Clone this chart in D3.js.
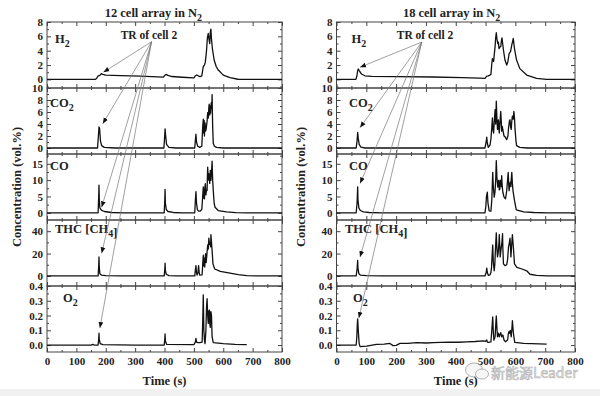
<!DOCTYPE html>
<html>
<head>
<meta charset="utf-8">
<script src="https://cdn.jsdelivr.net/npm/d3@7"></script>
<style>
  body { margin: 0; background: #fff; }
  svg { display: block; }
  .tick text { font-family: "Liberation Serif", serif; font-weight: bold; font-size: 11px; fill: #222; }
  .lbl { font-family: "Liberation Serif", serif; font-weight: bold; fill: #222; }
</style>
</head>
<body>
<svg id="chart" width="600" height="396"></svg>
<script>
// time axis
var timeTicks = [0, 100, 200, 300, 400, 500, 600, 700, 800];
var timeMinor = [50, 150, 250, 350, 450, 550, 650, 750];

// gases, top to bottom
var gasNames = ["H2", "CO2", "CO", "THC", "O2"];
var gasDomains = [[-1.2, 8], [-1, 10], [-2.2, 18], [-9, 50], [-0.047, 0.4]];
var gasTicks = [[0, 2, 4, 6, 8], [0, 2, 4, 6, 8, 10], [0, 5, 10, 15], [0, 20, 40], [0, 0.1, 0.2, 0.3, 0.4]];
var gasMinor = [[-1, 1, 3, 5, 7], [1, 3, 5, 7, 9], [2.5, 7.5, 12.5, 17.5], [10, 30], [0.05, 0.15, 0.25, 0.35]];

// 12 cell array, [time s, vol.%]
var leftH2 = [[0,0],[165,0],[170,0.2],[173,0.45],[180,0.55],[185,0.8],[190,0.7],[200,0.6],[250,0.52],[317,0.46],[396,0.32],
  [400,0.5],[405,0.7],[412,0.55],[425,0.4],[460,0.3],[500,0.2],[505,0.5],[510,0.62],[515,0.5],[521,0.37],[527,0.5],
  [532,1.8],[536,2.0],[539,2.4],[543,4.0],[546,5.8],[549,6.4],[551,5.7],[554,5.0],[556,6.6],[558,7.0],[560,5.6],
  [563,4.3],[569,2.7],[576,1.8],[583,1.3],[600,0.6],[623,0.25],[650,0.02],[680,0],[800,0]];
var leftCO2 = [[0,0],[172,0],[175,2.0],[177,3.5],[179,3.3],[182,1.2],[186,0.4],[195,0.1],[230,0],[398,0],[400,1.5],
  [402,3.2],[404,2.0],[407,0.6],[415,0.1],[440,0],[503,0],[505,1.2],[507,2.3],[509,1.0],[513,0.3],[520,0.1],[527,0.3],
  [530,3.5],[532,4.8],[533,2.5],[535,4.6],[536,2.0],[538,4.2],[540,2.8],[542,3.2],[545,4.5],[547,5.9],[549,5.0],
  [551,6.8],[552,7.3],[554,5.5],[555,7.0],[557,5.8],[559,7.5],[561,6.6],[562,8.9],[563,6.0],[564,3.6],[566,0.8],
  [570,0.3],[577,0.1],[600,0],[800,0]];
var leftCO = [[0,0],[174,0],[176,5],[177,8.5],[178,4],[180,1.5],[185,0.8],[195,0.4],[220,0.1],[260,0],[399,0],[401,4],
  [402,7.2],[403,3],[406,1],[412,0.4],[430,0.1],[460,0],[503,0],[505,3.5],[507,6.5],[509,3],[512,1],[516,0.5],[521,0.5],
  [527,1.0],[530,5],[532,7.9],[534,4.5],[536,4.3],[537,7.5],[539,8.9],[541,5.5],[543,7.0],[545,6.8],[546,11],[547,14],
  [549,10],[551,12],[552,11.4],[554,9],[556,13],[558,9.9],[560,12.5],[561,14],[562,15.8],[564,10],[566,6.8],[569,3],
  [572,1.7],[583,0.7],[611,0.3],[643,0.05],[680,0],[800,0]];
var leftTHC = [[0,0],[174,0],[176,9],[177,17],[178,8],[180,2],[185,0.8],[200,0.2],[250,0],[399,0],[401,6],[402,11.4],
  [403,5],[406,1.5],[415,0.3],[440,0],[503,0],[505,5],[507,9.2],[509,3],[511,0.8],[514,3],[516,9.2],[518,3],[520,0.8],
  [528,1],[530,10],[532,18.5],[534,9],[536,16],[537,8],[539,17],[540,20],[542,12],[544,18],[547,27.7],[549,24],
  [551,33.8],[553,28],[556,30],[557,26],[558,37],[560,30],[562,23],[565,10.8],[571,6.2],[590,4],[623,2.5],[651,1.2],
  [680,0.3],[720,0],[800,0]];
var leftO2 = [[0,0],[150,0],[156,0.005],[160,0],[174,0],[176,0.04],[177,0.08],[178,0.04],[181,0.01],[190,0.003],
  [300,0],[399,0],[401,0.04],[402,0.075],[403,0.03],[407,0.005],[500,0.003],[505,0.02],[507,0.045],[509,0.02],
  [514,0.016],[521,0.016],[528,0.02],[530,0.15],[532,0.34],[534,0.1],[536,0.035],[538,0.01],[541,0.1],[543,0.25],
  [545,0.315],[547,0.2],[549,0.147],[551,0.23],[553,0.237],[554,0.15],[556,0.12],[557,0.22],[558,0.226],[560,0.2],
  [562,0.057],[566,0.016],[600,0.01],[640,0.005],[680,0.003]];

// 18 cell array, [time s, vol.%]
var rightH2 = [[0,0],[65,0],[68,0.4],[71,1.2],[73,1.45],[78,1.1],[84,0.75],[95,0.5],[118,0.42],[200,0.38],[325,0.33],
  [420,0.25],[481,0.19],[498,0.15],[504,0.45],[509,0.5],[515,0.6],[518,0.7],[521,2.2],[523,2.9],[527,2.5],[530,3.8],
  [532,4.6],[534,5.8],[536,6.5],[538,5.7],[541,5.0],[543,5.2],[545,4.3],[548,4.5],[551,4.6],[553,5.3],[555,5.8],
  [558,4.8],[560,4.1],[565,2.7],[571,2.0],[575,2.5],[579,3.6],[584,3.9],[588,4.8],[593,5.7],[597,4.3],[604,2.7],
  [615,1.5],[638,0.6],[671,0.15],[705,0],[800,0]];
var rightCO2 = [[0,0],[66,0],[69,1.2],[71,2.6],[73,1.6],[76,0.6],[82,0.15],[95,0],[498,0],[502,1.0],[504,1.8],[506,0.8],
  [509,0.1],[515,0.5],[518,1.5],[521,3.5],[523,5.0],[525,3.0],[527,2.5],[530,5.0],[532,6.4],[534,4.0],[536,7.8],
  [538,5.0],[540,3.1],[542,4.0],[543,4.7],[545,3.0],[546,2.5],[548,4.0],[551,6.1],[553,4.0],[554,2.8],[556,3.6],
  [558,3.0],[562,2.0],[565,1.9],[571,1.4],[575,2.0],[577,3.3],[580,4.5],[582,4.7],[584,3.5],[586,3.1],[588,4.5],
  [590,5.3],[593,4.8],[595,6.1],[597,5.0],[599,3.1],[602,1.2],[604,0.4],[615,0.1],[640,0],[800,0]];
var rightCO = [[0,0],[66,0],[69,3],[71,7.9],[72,4],[75,1.5],[80,0.7],[90,0.3],[110,0.1],[150,0],[498,0],[501,2],[503,5],
  [506,6.3],[508,3],[512,0.6],[518,0.5],[521,4],[524,12.4],[526,8],[529,4.8],[531,6],[532,6.8],[534,10],[536,16],
  [538,11],[541,7.9],[543,9.5],[544,9.9],[546,7],[548,7.3],[549,10],[551,9.4],[553,8],[554,11.4],[556,8],[558,6.3],
  [562,4.8],[567,4.3],[571,6.8],[573,9],[576,12.4],[578,8],[579,6.8],[581,8.5],[583,9.4],[585,8],[586,10],[588,12.4],
  [590,9],[592,6.8],[597,3.8],[603,0.9],[628,0.3],[662,0.1],[707,0],[800,0]];
var rightTHC = [[0,0],[66,0],[69,6],[71,13.8],[72,7],[75,2],[80,0.8],[100,0.2],[150,0],[498,0],[502,3],[504,7],[506,3],
  [509,0.6],[515,1],[518,3],[520,7.7],[522,18],[524,27.7],[526,12],[529,4.6],[531,10],[532,17],[534,28],[536,38.5],
  [538,25],[540,17],[542,20],[543,23],[545,30],[546,37],[548,25],[549,17],[551,22],[553,26],[555,30],[557,37.8],
  [558,25],[560,10.8],[565,9.2],[571,10],[574,15],[577,26],[580,30],[582,33.8],[584,24],[585,17],[587,25],[590,37],
  [592,30],[594,23],[597,10.8],[605,7.7],[622,6.2],[638,4.6],[649,1.5],[671,0.5],[705,0],[800,0]];
var rightO2 = [[0,0],[66,0],[68,0.05],[70,0.15],[71,0.178],[73,0.1],[76,0.01],[79,-0.011],[101,-0.007],[134,0.005],
  [160,0.006],[179,0.011],[190,-0.004],[200,-0.002],[213,0.011],[240,0.012],[269,0.016],[300,0.014],[325,0.016],
  [350,0.018],[381,0.02],[410,0.019],[437,0.022],[465,0.024],[492,0.029],[500,0.025],[502,0.03],[504,0.034],
  [506,0.02],[509,0.018],[518,0.022],[521,0.1],[524,0.19],[526,0.09],[528,0.033],[532,0.057],[534,0.13],[536,0.197],
  [538,0.12],[540,0.056],[543,0.08],[546,0.056],[548,0.07],[551,0.084],[554,0.056],[556,0.065],[558,0.068],
  [562,0.034],[567,0.022],[574,0.034],[576,0.07],[578,0.09],[580,0.08],[583,0.1],[586,0.056],[588,0.1],[590,0.165],
  [593,0.09],[595,0.056],[598,0.018],[628,0.011],[705,0.007]];

// "TR of cell 2" arrow tips, [time s, vol.%] per panel
var leftArrowTips = [[192, 1.0], [190, 4.05], [186, 1.7], [186, 20.3], [180, 0.115]];
var rightArrowTips = [[79, 1.7], [79, 3.4], [79, 9.0], [79, 16.9], [75, 0.183]];

var svg = d3.select("#chart");
var panelTop = 22, panelH = 66;

// faint grey strip along the bottom of the scan
svg.append("rect").attr("x", 0).attr("y", 389).attr("width", 600).attr("height", 7).attr("fill", "#f1f1f1");

svg.append("defs").append("marker")
    .attr("id", "tip")
    .attr("viewBox", "0 0 10 10")
    .attr("refX", 10).attr("refY", 5)
    .attr("markerWidth", 6).attr("markerHeight", 6)
    .attr("markerUnits", "userSpaceOnUse")
    .attr("orient", "auto")
  .append("path")
    .attr("d", "M0,1L10,5L0,9Z")
    .attr("fill", "#111");

// subscript helper: parts = [[text, isSub], ...]
function richText(sel, parts, size) {
    parts.forEach(function(p) {
        sel.append("tspan")
            .attr("font-size", p[1] ? size * 0.8 : size)
            .attr("dy", p[1] ? size * 0.3 : 0)
            .text(p[0]);
        if (p[1]) sel.append("tspan").attr("dy", -size * 0.3).text("");
    });
}

var gasLabels = [
    [["H", 0], ["2", 1]],
    [["CO", 0], ["2", 1]],
    [["CO", 0]],
    [["THC [CH", 0], ["4", 1], ["]", 0]],
    [["O", 0], ["2", 1]]
];

function drawChart(opts) {
    var x = d3.scaleLinear().domain([0, 800]).range(opts.xRange);
    var g = svg.append("g");
    var ys = [];

    opts.series.forEach(function(data, i) {
        var top = panelTop + i * panelH, bot = top + panelH;
        var y = d3.scaleLinear().domain(gasDomains[i]).range([bot, top]);
        ys.push(y);
        var p = g.append("g");

        // ticks on all four edges, pointing inward
        var axes = [
            [d3.axisLeft(y).tickValues(gasTicks[i]).tickSize(-4).tickPadding(4)
                .tickFormat(i == 4 ? d3.format(".1f") : d3.format("d")), "translate(" + opts.xRange[0] + ",0)"],
            [d3.axisLeft(y).tickValues(gasMinor[i]).tickSize(-2).tickFormat(""), "translate(" + opts.xRange[0] + ",0)"],
            [d3.axisRight(y).tickValues(gasTicks[i]).tickSize(-4).tickFormat(""), "translate(" + opts.xRange[1] + ",0)"],
            [d3.axisRight(y).tickValues(gasMinor[i]).tickSize(-2).tickFormat(""), "translate(" + opts.xRange[1] + ",0)"],
            [d3.axisTop(x).tickValues(timeTicks).tickSize(-4).tickFormat(""), "translate(0," + top + ")"],
            [d3.axisTop(x).tickValues(timeMinor).tickSize(-2).tickFormat(""), "translate(0," + top + ")"],
            [d3.axisBottom(x).tickValues(timeTicks).tickSize(-4).tickPadding(5)
                .tickFormat(i == 4 ? d3.format("d") : ""), "translate(0," + bot + ")"],
            [d3.axisBottom(x).tickValues(timeMinor).tickSize(-2).tickFormat(""), "translate(0," + bot + ")"]
        ];
        axes.forEach(function(a) {
            var ag = p.append("g").attr("transform", a[1]).call(a[0]);
            ag.select(".domain").remove();
            ag.selectAll(".tick line").attr("stroke", "#444");
            ag.selectAll(".tick text").attr("fill", "#222").attr("font-size", null);
        });

        p.append("rect")
            .attr("x", opts.xRange[0]).attr("y", top)
            .attr("width", opts.xRange[1] - opts.xRange[0]).attr("height", panelH)
            .attr("fill", "none").attr("stroke", "#444").attr("stroke-width", 1);

        var line = d3.line().x(function(d) { return x(d[0]); }).y(function(d) { return y(d[1]); });
        p.append("path")
            .datum(data)
            .attr("d", line)
            .attr("fill", "none")
            .attr("stroke", "#111")
            .attr("stroke-width", 1.3)
            .attr("stroke-linejoin", "round");

        var lt = g.append("text").attr("class", "lbl")
            .attr("x", opts.xRange[0] + opts.labelDx[i])
            .attr("y", top + opts.labelDy[i]);
        richText(lt, gasLabels[i], 12.5);
    });

    // title
    var tt = g.append("text").attr("class", "lbl")
        .attr("x", x(opts.titleT)).attr("y", 17)
        .attr("text-anchor", "middle");
    richText(tt, [[opts.title, 0], ["2", 1]], 12.5);

    // annotation
    g.append("text").attr("class", "lbl")
        .attr("x", x(opts.noteT)).attr("y", 39)
        .attr("text-anchor", "middle")
        .attr("font-size", 11.5)
        .text("TR of cell 2");
    var ox = x(opts.noteOrigin[0]), oy = ys[0](opts.noteOrigin[1]);
    opts.tips.forEach(function(d, i) {
        g.append("line")
            .attr("x1", ox).attr("y1", oy)
            .attr("x2", x(d[0])).attr("y2", ys[i](d[1]))
            .attr("stroke", "#777").attr("stroke-width", 0.7)
            .attr("marker-end", "url(#tip)");
    });

    // axis labels
    g.append("text").attr("class", "lbl")
        .attr("transform", "translate(" + opts.yLabelX + "," + (panelTop + panelH * 2.5) + ")rotate(-90)")
        .attr("text-anchor", "middle")
        .attr("font-size", 12.5)
        .text("Concentration (vol.%)");
    g.append("text").attr("class", "lbl")
        .attr("x", x(400)).attr("y", 385)
        .attr("text-anchor", "middle")
        .attr("font-size", 12.5)
        .text("Time (s)");
}

drawChart({
    xRange: [47, 282],
    series: [leftH2, leftCO2, leftCO, leftTHC, leftO2],
    tips: leftArrowTips,
    title: "12 cell array in N",
    titleT: 362,
    noteT: 347,
    noteOrigin: [356, 5.25],
    labelDx: [8, 3, 3, 8, 16],
    labelDy: [21, 19, 16, 13, 16],
    yLabelX: 21
});

drawChart({
    xRange: [336.5, 575],
    series: [rightH2, rightCO2, rightCO, rightTHC, rightO2],
    tips: rightArrowTips,
    title: "18 cell array in N",
    titleT: 386,
    noteT: 297,
    noteOrigin: [286, 5.2],
    labelDx: [15, 12.5, 12.5, 8.5, 16.5],
    labelDy: [21, 19, 16, 13, 16],
    yLabelX: 305
});

// source watermark, sits over the lower right corner as in the scan
var wm = svg.append("g").attr("opacity", 0.75);
wm.append("ellipse").attr("cx", 474).attr("cy", 370).attr("rx", 8.5).attr("ry", 7)
    .attr("fill", "#f4f4f4").attr("stroke", "#999").attr("stroke-width", 1);
wm.append("ellipse").attr("cx", 482).attr("cy", 374).attr("rx", 6.5).attr("ry", 5)
    .attr("fill", "#f4f4f4").attr("stroke", "#999").attr("stroke-width", 1);
wm.append("text")
    .attr("x", 491).attr("y", 378)
    .attr("font-family", "Noto Sans CJK SC, sans-serif")
    .attr("font-size", 14)
    .attr("fill", "#e6e6e6").attr("stroke", "#999").attr("stroke-width", 0.6)
    .text("新能源Leader");
</script>
</body>
</html>
